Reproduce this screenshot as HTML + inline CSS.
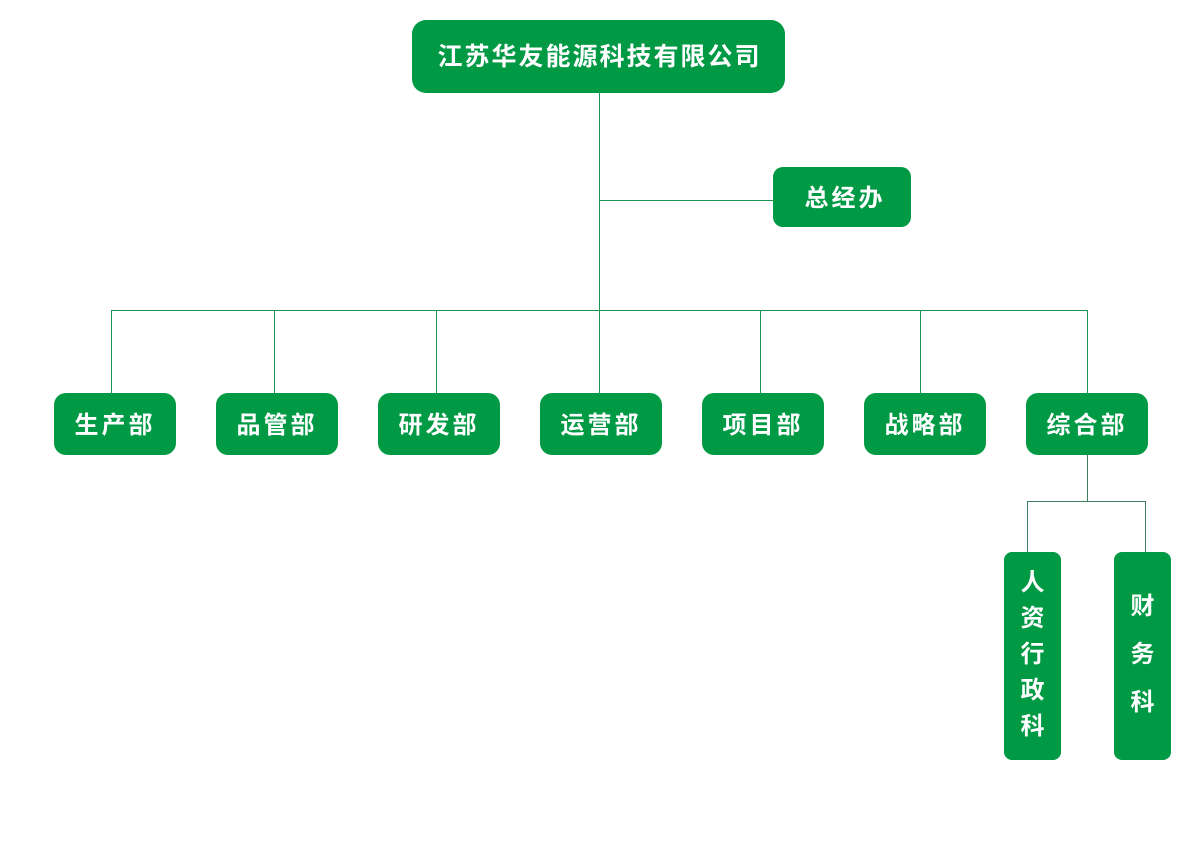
<!DOCTYPE html>
<html><head><meta charset="utf-8"><style>
body{margin:0;width:1200px;height:860px;background:#fff;position:relative;overflow:hidden;font-family:"Liberation Sans","Noto Sans CJK SC",sans-serif}
.b{position:absolute;background:#009944;color:#fff;border-radius:12px;display:flex;align-items:center;justify-content:center;font-size:24px;font-weight:bold;letter-spacing:3px;box-sizing:border-box;padding-bottom:4px}
.h{position:absolute;height:1px;background:#1a9450}
.v{position:absolute;width:1px;background:#1a9450}
.d{width:122px;height:62px;top:393px}
.vt{flex-direction:column;border-radius:8px;padding-bottom:2px}
</style></head><body>
<div class="v" style="left:599px;top:93px;height:217px"></div>
<div class="h" style="left:599px;top:200px;width:174px"></div>
<div class="h" style="left:111px;top:310px;width:977px"></div>
<div class="v" style="left:111px;top:310px;height:83px"></div>
<div class="v" style="left:274px;top:310px;height:83px"></div>
<div class="v" style="left:436px;top:310px;height:83px"></div>
<div class="v" style="left:599px;top:310px;height:83px"></div>
<div class="v" style="left:760px;top:310px;height:83px"></div>
<div class="v" style="left:920px;top:310px;height:83px"></div>
<div class="v" style="left:1087px;top:310px;height:83px"></div>
<div class="v" style="left:1087px;top:455px;height:46px;background:#3f7f5f"></div>
<div class="h" style="left:1027px;top:501px;width:119px;background:#3f7f5f"></div>
<div class="v" style="left:1027px;top:501px;height:51px;background:#3f7f5f"></div>
<div class="v" style="left:1145px;top:501px;height:51px;background:#3f7f5f"></div>
<div class="b" style="left:412px;top:20px;width:373px;height:73px;border-radius:14px;letter-spacing:2px;font-size:25px;padding-left:2px">江苏华友能源科技有限公司</div>
<div class="b" style="left:773px;top:167px;width:138px;height:60px;border-radius:10px;padding-left:6px">总经办</div>
<div class="b d" style="left:54px">生产部</div>
<div class="b d" style="left:216px">品管部</div>
<div class="b d" style="left:378px">研发部</div>
<div class="b d" style="left:540px">运营部</div>
<div class="b d" style="left:702px">项目部</div>
<div class="b d" style="left:864px">战略部</div>
<div class="b d" style="left:1026px">综合部</div>
<div class="b vt" style="left:1004px;top:552px;width:57px;height:208px;line-height:36px;letter-spacing:0">人<br>资<br>行<br>政<br>科</div>
<div class="b vt" style="left:1114px;top:552px;width:57px;height:208px;line-height:48px;letter-spacing:0">财<br>务<br>科</div>
</body></html>
